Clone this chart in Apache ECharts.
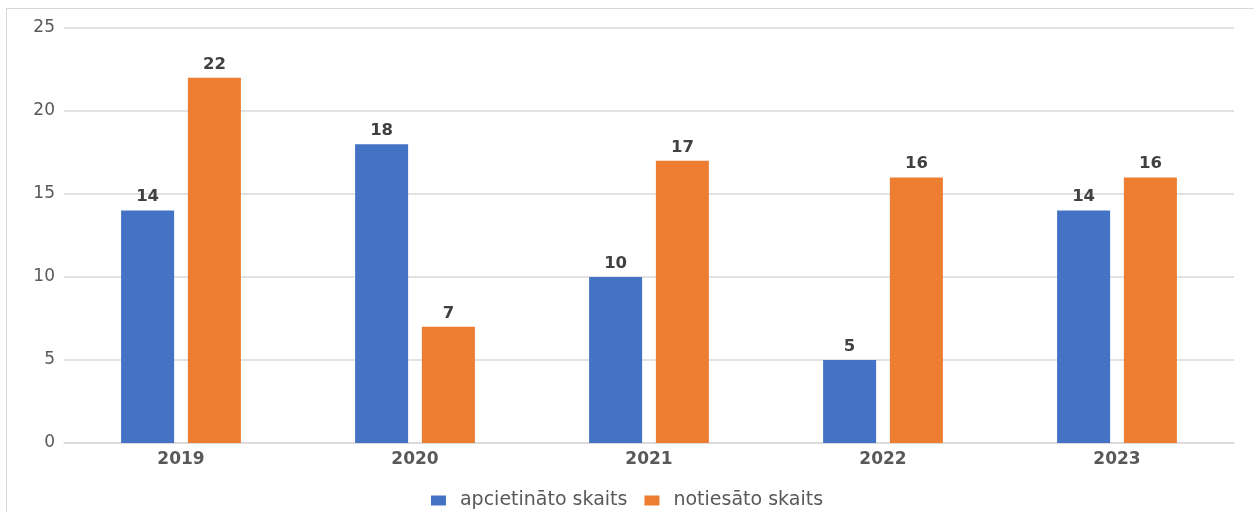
<!DOCTYPE html>
<html>
<head>
<meta charset="utf-8">
<script src="https://cdn.jsdelivr.net/npm/echarts@6/dist/echarts.min.js"></script>
<style>
  html, body { margin: 0; padding: 0; background: #fff; }
  #wrap { position: relative; width: 1254px; height: 512px; overflow: hidden; }
  #frame { position: absolute; left: 6px; top: 8px; width: 1300px; height: 600px; border: 1px solid #d9d9d9; box-sizing: border-box; }
  #chart { position: absolute; left: 0; top: 0; width: 1254px; height: 512px; }
</style>
</head>
<body>
<div id="wrap">
  <div id="frame"></div>
  <div id="chart"></div>
</div>
<script>
const years = ['2019', '2020', '2021', '2022', '2023']
const arrested = [14, 18, 10, 5, 14]
const convicted = [22, 7, 17, 16, 16]
const seriesNames = ['apcietināto skaits', 'notiesāto skaits']

const FONT = '"DejaVu Sans", Verdana, sans-serif'
const chart = echarts.init(document.getElementById('chart'))

const labelStyle = {
  show: true,
  position: 'top',
  distance: 5,
  fontFamily: FONT,
  fontWeight: 'bold',
  fontSize: 16.5,
  color: '#404040',
}

chart.setOption({
  animation: false,
  textStyle: { fontFamily: FONT },
  grid: { left: 64, right: 20, top: 28, bottom: 69, containLabel: false },
  legend: {
    data: seriesNames,
    top: 486,
    left: 'center',
    itemWidth: 15,
    itemHeight: 10,
    itemGap: 17,
    icon: 'rect',
    textStyle: { fontFamily: FONT, fontSize: 19, color: '#595959', padding: [0, 0, 0, 9] },
  },
  xAxis: {
    type: 'category',
    data: years,
    axisLine: { lineStyle: { color: '#d9d9d9', width: 1.5 } },
    axisTick: { show: false },
    axisLabel: { fontFamily: FONT, fontWeight: 'bold', fontSize: 17, color: '#595959', margin: 8 },
  },
  yAxis: {
    type: 'value',
    min: 0,
    max: 25,
    interval: 5,
    axisLine: { show: false },
    axisTick: { show: false },
    axisLabel: { fontFamily: FONT, fontSize: 17, color: '#595959', margin: 9 },
    splitLine: { lineStyle: { color: '#d9d9d9', width: 1.5 } },
  },
  series: [
    {
      name: seriesNames[0],
      type: 'bar',
      data: arrested,
      barWidth: 53,
      barGap: '26%',
      itemStyle: { color: '#4472c4' },
      label: labelStyle,
    },
    {
      name: seriesNames[1],
      type: 'bar',
      data: convicted,
      barWidth: 53,
      itemStyle: { color: '#ed7d31' },
      label: labelStyle,
    },
  ],
})
</script>
</body>
</html>
